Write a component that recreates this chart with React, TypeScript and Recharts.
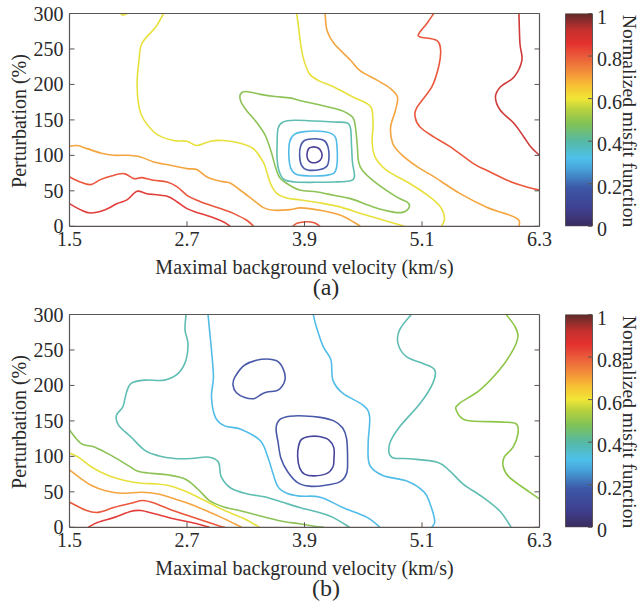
import React from 'react';
import { LineChart, Line, XAxis, YAxis, BarChart, Bar } from 'recharts';

// ---------- axis ticks ----------
const velocityTicks = [1.5, 2.7, 3.9, 5.1, 6.3];
const perturbationTicks = [0, 50, 100, 150, 200, 250, 300];
const misfitTicks = [0, 0.2, 0.4, 0.6, 0.8, 1];

// ---------- colour scale of the misfit (position 0..1, colour) ----------
const misfitStops: [number, string][] = [
  [0.0, '#3a2b5c'],
  [0.08, '#3f3f8f'],
  [0.18, '#3c57a6'],
  [0.27, '#47a3da'],
  [0.32, '#4ec0ea'],
  [0.4, '#56b9a5'],
  [0.48, '#7fc257'],
  [0.55, '#b9d13d'],
  [0.6, '#f0e636'],
  [0.66, '#f7c233'],
  [0.72, '#f3923a'],
  [0.8, '#ea5a3a'],
  [0.86, '#e4312e'],
  [0.92, '#c6302d'],
  [1.0, '#5e2b2b'],
];
const colorbarData = [{ name: 'misfit', span: 1 }];

// ---------- (a) contour lines: [velocity km/s, perturbation %] ----------
const aLevel1 = [[3.925, 101], [3.94, 109], [3.97, 111.5], [4.02, 111.5], [4.06, 108], [4.08, 100], [4.06, 93], [4.02, 90], [3.97, 90], [3.935, 94]];
const aLevel2 = [[3.85, 100], [3.86, 113], [3.9, 121], [4.0, 123.5], [4.1, 121], [4.14, 112], [4.15, 97], [4.13, 85], [4.06, 80], [3.93, 79.5], [3.87, 86]];
const aLevel3 = [[3.74, 100], [3.75, 120], [3.8, 130], [3.9, 133.5], [4.05, 134], [4.17, 131], [4.22, 124], [4.235, 105], [4.23, 85], [4.2, 75], [4.1, 71.5], [3.95, 71], [3.82, 73], [3.76, 82]];
const aLevel4 = [[3.62, 115], [3.63, 138], [3.68, 147], [3.8, 149.5], [4.0, 148.5], [4.2, 147], [4.33, 146], [4.37, 138], [4.38, 115], [4.39, 90], [4.41, 70], [4.36, 64], [4.2, 62.5], [4.0, 62], [3.8, 62.5], [3.69, 66], [3.64, 78], [3.62, 95]];
const aLevel5 = [[3.245, 186], [3.3, 190], [3.45, 186], [3.6, 183], [3.75, 181], [3.86, 177], [4.06, 171], [4.27, 163.6], [4.39, 154], [4.42, 140], [4.44, 112], [4.45, 93], [4.49, 79], [4.64, 60], [4.84, 41.4], [4.95, 34], [4.97, 27], [4.91, 20], [4.81, 20], [4.61, 27], [4.37, 39], [4.2, 43.7], [4.03, 48.4], [3.86, 50.8], [3.76, 57], [3.65, 68], [3.6, 85], [3.56, 105], [3.5, 128], [3.42, 145], [3.31, 163], [3.25, 176]];
const aLevel6West = [[2.46, 300], [2.38, 281], [2.24, 258], [2.21, 234], [2.19, 201], [2.21, 168], [2.26, 150], [2.39, 130], [2.56, 121], [2.7, 120], [2.8, 114], [2.94, 120], [3.07, 121], [3.245, 117], [3.38, 109], [3.48, 90], [3.52, 74], [3.56, 58], [3.62, 46], [3.72, 40], [3.86, 37], [4.06, 33], [4.27, 27], [4.5, 17], [4.7, 9], [4.85, 3], [4.92, 0]];
const aLevel6East = [[3.82, 300], [3.84, 280], [3.86, 258], [3.89, 236], [3.95, 215], [4.05, 205], [4.2, 196.5], [4.4, 182], [4.54, 173], [4.59, 163.6], [4.6, 140], [4.59, 121], [4.62, 98], [4.74, 79], [4.98, 60], [5.18, 41.4], [5.29, 27], [5.33, 11], [5.3, 0]];
const aLevel6Top = [[2.02, 300], [2.05, 297.5], [2.09, 300]];
const aLevel7West = [[1.5, 112.8], [1.578, 113.8], [1.68, 109.5], [1.816, 103.4], [1.953, 100.1], [2.09, 100.1], [2.225, 97.8], [2.36, 90.7], [2.53, 86], [2.7, 81.3], [2.8, 80], [2.905, 69.6], [3.04, 63.5], [3.14, 61.1], [3.245, 50.8], [3.38, 36.7], [3.48, 26.3], [3.586, 22.6], [3.756, 23.5], [3.86, 26], [4.06, 22.6], [4.27, 15.5], [4.4, 6], [4.47, 0]];
const aLevel7East = [[4.11, 300], [4.13, 276], [4.2, 258], [4.37, 234], [4.47, 219], [4.64, 206], [4.78, 194], [4.85, 182], [4.83, 164], [4.78, 140], [4.8, 117], [4.88, 102.5], [5.05, 84], [5.22, 70], [5.49, 46], [5.76, 27], [6.0, 15.5], [6.09, 8.5], [6.09, 0]];
const aLevel8West = [[1.5, 69.6], [1.61, 62.5], [1.714, 58.8], [1.816, 65.8], [1.918, 70.5], [2.055, 74.3], [2.157, 67.2], [2.24, 68.6], [2.36, 64.9], [2.497, 62.5], [2.6, 55.5], [2.7, 43.7], [2.8, 36.7], [2.94, 29.6], [3.075, 23.5], [3.18, 17.9], [3.31, 8.5], [3.38, 0]];
const aLevel8East = [[5.22, 300], [5.15, 286], [5.07, 272], [5.08, 267], [5.25, 262], [5.29, 248], [5.27, 225], [5.2, 196.5], [5.05, 168], [5.03, 154], [5.08, 140], [5.22, 126], [5.39, 112], [5.63, 88], [5.76, 79], [5.97, 65], [6.17, 55.5], [6.3, 51]];
const aLevel8Floor = [[3.78, 0], [3.83, 4.5], [3.92, 6.5], [4.0, 5], [4.06, 0]];
const aLevel9West = [[1.5, 32], [1.61, 23.5], [1.714, 18.8], [1.85, 22.6], [1.987, 32], [2.09, 37.6], [2.19, 49.4], [2.29, 46], [2.497, 42.3], [2.6, 34.3], [2.7, 24.9], [2.837, 17.9], [2.97, 12.2], [3.075, 6.1], [3.14, 0]];
const aLevel9East = [[6.09, 300], [6.1, 258], [6.12, 234], [6.04, 210.6], [5.9, 196.5], [5.85, 182], [5.9, 163.6], [6.04, 145], [6.14, 126], [6.21, 112], [6.3, 100]];

// ---------- (b) contour lines ----------
const bLevel1 = [[3.83, 100], [3.84, 115], [3.87, 124], [3.95, 128], [4.05, 128], [4.15, 123], [4.2, 112], [4.2, 95], [4.19, 85], [4.13, 76], [4.0, 72.5], [3.9, 75], [3.85, 84]];
const bLevel2Ring = [[3.61, 140], [3.65, 152], [3.75, 156.5], [3.9, 157], [4.06, 155], [4.2, 150], [4.29, 140], [4.33, 125], [4.34, 95], [4.33, 76], [4.26, 64], [4.1, 59], [3.95, 58], [3.83, 63], [3.73, 78], [3.66, 97], [3.63, 120]];
const bLevel2Upper = [[3.17, 200.5], [3.19, 212], [3.29, 228.8], [3.46, 236.8], [3.61, 235], [3.68, 224], [3.7, 207.5], [3.63, 193.4], [3.53, 191], [3.46, 187.7], [3.39, 181.6], [3.29, 183], [3.205, 189.6]];
const bLevel3West = [[2.915, 300], [2.93, 278], [2.95, 250], [2.97, 212], [2.95, 184], [2.99, 155], [3.085, 143], [3.255, 138], [3.45, 122], [3.53, 97], [3.58, 75], [3.63, 57], [3.72, 48], [3.85, 44], [4.06, 42.5], [4.29, 28], [4.54, 14], [4.67, 0]];
const bLevel3East = [[3.99, 300], [4.02, 283], [4.09, 255], [4.17, 236], [4.19, 207.5], [4.29, 189], [4.5, 172], [4.565, 156], [4.55, 118], [4.565, 88], [4.7, 73], [4.95, 65], [5.12, 50], [5.18, 34], [5.23, 9], [5.2, 0]];
const bLevel4West = [[2.69, 300], [2.68, 278], [2.71, 259], [2.69, 236], [2.61, 217], [2.47, 207.5], [2.27, 207.5], [2.13, 203], [2.08, 189], [2.045, 170], [1.98, 158], [2.0, 144], [2.13, 127], [2.27, 108.5], [2.405, 101], [2.575, 97], [2.745, 97], [2.915, 99], [3.02, 92], [3.05, 71], [3.15, 55], [3.32, 47], [3.49, 43], [3.66, 36], [3.85, 28], [4.02, 22], [4.19, 14], [4.36, 0]];
const bLevel4East = [[4.99, 300], [4.87, 278], [4.855, 259], [4.94, 240.6], [5.11, 231], [5.23, 221.7], [5.21, 203], [5.08, 174.5], [4.87, 141.5], [4.77, 118], [4.79, 99], [4.97, 96.7], [5.25, 92], [5.38, 80], [5.52, 61], [5.72, 42.5], [5.89, 23.6], [5.99, 4.7], [6.01, 0]];
const bLevel5West = [[1.5, 137], [1.62, 118], [1.76, 113], [1.93, 101], [2.1, 87], [2.2, 79], [2.34, 76], [2.5, 74], [2.68, 68], [2.81, 54], [2.93, 37.7], [3.085, 28.3], [3.255, 23], [3.45, 16], [3.66, 9], [3.85, 5], [4.0, 1.5], [4.1, 0]];
const bLevel5East = [[5.96, 300], [6.05, 283], [6.08, 269], [6.03, 250], [5.89, 221.7], [5.69, 193.4], [5.48, 174.5], [5.45, 165], [5.55, 151], [5.89, 148.6], [6.06, 146], [6.08, 132], [6.03, 113], [5.94, 99], [5.93, 85], [5.99, 70.8], [6.2, 49.5], [6.3, 40]];
const bLevel6 = [[1.5, 104.7], [1.59, 99], [1.725, 85], [1.895, 73], [2.065, 66], [2.235, 62], [2.405, 61], [2.575, 56.6], [2.745, 47], [2.915, 35.4], [3.085, 23.6], [3.29, 11.8], [3.44, 0]];
const bLevel7 = [[1.5, 81], [1.62, 68.4], [1.725, 59], [1.86, 52], [2.03, 48], [2.235, 49.5], [2.405, 47], [2.575, 40], [2.71, 34], [2.88, 24.5], [3.05, 14], [3.19, 4.7], [3.26, 0]];
const bLevel8 = [[1.5, 35.4], [1.66, 24.5], [1.79, 21], [1.96, 28.3], [2.13, 34], [2.25, 37.7], [2.37, 34], [2.54, 24.5], [2.745, 15], [2.915, 7], [3.05, 1], [3.09, 0]];
const bLevel9 = [[1.69, 0], [1.79, 7], [1.96, 14], [2.13, 22.6], [2.23, 23.6], [2.37, 19], [2.575, 11.8], [2.81, 4.7], [2.93, 0]];

// ---------- styling ----------
const FONT = '"Liberation Serif", "Times New Roman", serif';
const INK = '#2a2a2a';
const FRAME = '#5a5452';

const C = {
  indigo: '#4b3f96',
  navy: '#4a5aa9',
  navyDeep: '#47489c',
  sky: '#52bce8',
  teal: '#5fbdb2',
  green: '#8dc257',
  lime: '#8cc548',
  yellow: '#e8e03c',
  orange: '#f4a53f',
  redOrange: '#ea573c',
  red: '#e23d3a',
  darkRed: '#cf3a3a',
};

type Contour = { pts: number[][]; color: string; closed?: boolean };

const panelA: Contour[] = [
  { pts: aLevel9West, color: C.red },
  { pts: aLevel8West, color: C.redOrange },
  { pts: aLevel7West, color: C.orange },
  { pts: aLevel6West, color: C.yellow },
  { pts: aLevel6Top, color: C.yellow },
  { pts: aLevel8Floor, color: C.redOrange },
  { pts: aLevel6East, color: C.yellow },
  { pts: aLevel7East, color: C.orange },
  { pts: aLevel8East, color: C.redOrange },
  { pts: aLevel9East, color: C.darkRed },
  { pts: aLevel5, color: C.green, closed: true },
  { pts: aLevel4, color: C.teal, closed: true },
  { pts: aLevel3, color: C.sky, closed: true },
  { pts: aLevel2, color: C.navy, closed: true },
  { pts: aLevel1, color: C.indigo, closed: true },
];

const panelB: Contour[] = [
  { pts: bLevel9, color: C.red },
  { pts: bLevel8, color: C.redOrange },
  { pts: bLevel7, color: C.orange },
  { pts: bLevel6, color: C.yellow },
  { pts: bLevel5West, color: C.green },
  { pts: bLevel5East, color: C.lime },
  { pts: bLevel4West, color: C.teal },
  { pts: bLevel4East, color: C.teal },
  { pts: bLevel3West, color: C.sky },
  { pts: bLevel3East, color: C.sky },
  { pts: bLevel2Upper, color: C.navy, closed: true },
  { pts: bLevel2Ring, color: C.navy, closed: true },
  { pts: bLevel1, color: C.navyDeep, closed: true },
];

const toRows = (pts: number[][]) => pts.map(([v, p]) => ({ v, p }));

// Catmull-Rom spline through the contour vertices (d3 curve interface)
function smoothCurve(closed: boolean) {
  return (context: any) => {
    let pts: [number, number][] = [];
    return {
      areaStart() {},
      areaEnd() {},
      lineStart() {
        pts = [];
      },
      point(x: number, y: number) {
        pts.push([+x, +y]);
      },
      lineEnd() {
        const n = pts.length;
        if (!n) return;
        context.moveTo(pts[0][0], pts[0][1]);
        if (n < 3) {
          for (let i = 1; i < n; i++) context.lineTo(pts[i][0], pts[i][1]);
          if (closed) context.closePath();
          return;
        }
        const at = (i: number) => (closed ? pts[(i + n) % n] : pts[Math.max(0, Math.min(n - 1, i))]);
        const segs = closed ? n : n - 1;
        for (let i = 0; i < segs; i++) {
          const p0 = at(i - 1);
          const p1 = at(i);
          const p2 = at(i + 1);
          const p3 = at(i + 2);
          context.bezierCurveTo(
            p1[0] + (p2[0] - p0[0]) / 6,
            p1[1] + (p2[1] - p0[1]) / 6,
            p2[0] - (p3[0] - p1[0]) / 6,
            p2[1] - (p3[1] - p1[1]) / 6,
            p2[0],
            p2[1],
          );
        }
        if (closed) context.closePath();
      },
    };
  };
}
const openCurve = smoothCurve(false);
const closedCurve = smoothCurve(true);

const TICK_LEN = 5;
const textStyle = { fontFamily: FONT, fontSize: 20, fill: INK };

const bottomTick = (props: any) => {
  const { x, y, payload } = props;
  return (
    <g>
      <line x1={x} y1={y} x2={x} y2={y - TICK_LEN} stroke={FRAME} strokeWidth={1} />
      <text x={x} y={y + 19.5} textAnchor="middle" style={textStyle}>
        {String(payload.value)}
      </text>
    </g>
  );
};
const topTick = (props: any) => {
  const { x, y } = props;
  return <line x1={x} y1={y} x2={x} y2={y + TICK_LEN} stroke={FRAME} strokeWidth={1} />;
};
const leftTick = (props: any) => {
  const { x, y, payload } = props;
  return (
    <g>
      <line x1={x} y1={y} x2={x + TICK_LEN} y2={y} stroke={FRAME} strokeWidth={1} />
      <text x={x - 6} y={y} dy="0.35em" textAnchor="end" style={textStyle}>
        {String(payload.value)}
      </text>
    </g>
  );
};
const rightTick = (props: any) => {
  const { x, y } = props;
  return <line x1={x} y1={y} x2={x - TICK_LEN} y2={y} stroke={FRAME} strokeWidth={1} />;
};
const colorbarTick = (props: any) => {
  const { x, y, payload } = props;
  return (
    <g>
      <line x1={x} y1={y} x2={x - 4} y2={y} stroke={FRAME} strokeWidth={1} />
      <text x={x + 5} y={y + 3} dy="0.35em" textAnchor="start" style={textStyle}>
        {String(payload.value)}
      </text>
    </g>
  );
};

const frameLine = { stroke: FRAME, strokeWidth: 1.2 };

function Panel({ contours, caption, gid }: { contours: Contour[]; caption: string; gid: string }) {
  return (
    <div style={{ position: 'relative', width: 641, height: 301 }}>
      <div style={{ position: 'absolute', left: 0, top: 0 }}>
        <LineChart width={555} height={301} margin={{ top: 8.5, right: 10.5, bottom: 34.7, left: 9.5 }}>
          <XAxis
            type="number"
            dataKey="v"
            domain={[1.5, 6.3]}
            ticks={velocityTicks}
            interval={0}
            allowDataOverflow
            height={40}
            axisLine={frameLine}
            tickLine={false}
            tickSize={0}
            tickMargin={0}
            tick={bottomTick}
          />
          <XAxis
            xAxisId="top"
            orientation="top"
            type="number"
            domain={[1.5, 6.3]}
            ticks={velocityTicks}
            interval={0}
            allowDataOverflow
            height={5}
            axisLine={frameLine}
            tickLine={false}
            tickSize={0}
            tickMargin={0}
            tick={topTick}
          />
          <YAxis
            type="number"
            domain={[0, 300]}
            ticks={perturbationTicks}
            interval={0}
            allowDataOverflow
            width={60}
            axisLine={frameLine}
            tickLine={false}
            tickSize={0}
            tickMargin={0}
            tick={leftTick}
          />
          <YAxis
            yAxisId="right"
            orientation="right"
            type="number"
            domain={[0, 300]}
            ticks={perturbationTicks}
            interval={0}
            allowDataOverflow
            width={5}
            axisLine={frameLine}
            tickLine={false}
            tickSize={0}
            tickMargin={0}
            tick={rightTick}
          />
          {contours.map((c, i) => (
            <Line
              key={i}
              data={toRows(c.pts)}
              dataKey="p"
              type={c.closed ? closedCurve : openCurve}
              stroke={c.color}
              strokeWidth={1.6}
              dot={false}
              activeDot={false}
              legendType="none"
              isAnimationActive={false}
            />
          ))}
        </LineChart>
      </div>

      <div style={{ position: 'absolute', left: 555, top: 0 }}>
        <BarChart
          width={86}
          height={301}
          data={colorbarData}
          margin={{ top: 13.5, right: 9, bottom: 74.7, left: 10.5 }}
          barCategoryGap={0}
        >
          <defs>
            <linearGradient id={gid} x1="0" y1="1" x2="0" y2="0">
              {misfitStops.map(([o, col]) => (
                <stop key={o} offset={o} stopColor={col} />
              ))}
            </linearGradient>
          </defs>
          <XAxis dataKey="name" hide />
          <YAxis
            orientation="right"
            type="number"
            domain={[0, 1]}
            ticks={misfitTicks}
            interval={0}
            allowDataOverflow
            width={40}
            axisLine={false}
            tickLine={false}
            tickSize={0}
            tickMargin={0}
            tick={colorbarTick}
          />
          <Bar dataKey="span" fill={`url(#${gid})`} stroke={FRAME} strokeWidth={1} isAnimationActive={false} />
        </BarChart>
      </div>

      <svg width={641} height={301} style={{ position: 'absolute', left: 0, top: 0, pointerEvents: 'none' }}>
        <text transform="translate(26,121) rotate(-90)" textAnchor="middle" style={textStyle}>
          Perturbation (%)
        </text>
        <text x={304.5} y={273.5} textAnchor="middle" style={textStyle}>
          Maximal background velocity (km/s)
        </text>
        <text x={326} y={294.5} textAnchor="middle" style={{ ...textStyle, fontSize: 24 }}>
          {caption}
        </text>
        <text transform="translate(622.5,121) rotate(90)" textAnchor="middle" style={{ ...textStyle, fontSize: 19.5 }}>
          Normalized misfit function
        </text>
      </svg>
    </div>
  );
}

export default function App() {
  return (
    <div style={{ position: 'absolute', left: 0, top: 0, width: 641, height: 608, background: '#fff' }}>
      <Panel contours={panelA} caption="(a)" gid="misfitA" />
      <Panel contours={panelB} caption="(b)" gid="misfitB" />
    </div>
  );
}
